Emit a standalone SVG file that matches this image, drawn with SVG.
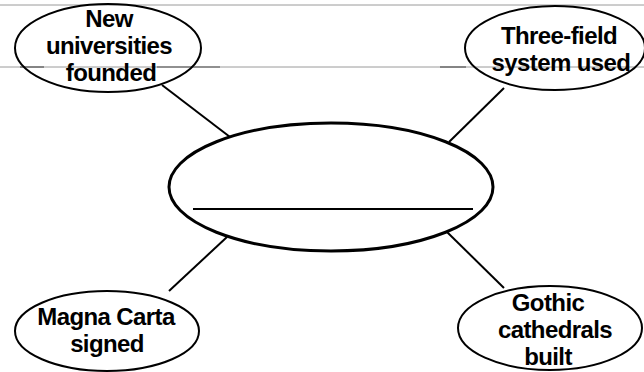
<svg xmlns="http://www.w3.org/2000/svg" width="644" height="372" viewBox="0 0 644 372">
<style>
.rule{stroke:#9a9a9a;stroke-width:1;fill:none}
.rule2{stroke:#555;stroke-width:1.2;fill:none}
.node{fill:none;stroke:#000;stroke-width:2}
.center{fill:none;stroke:#000;stroke-width:3}
.conn{stroke:#000;stroke-width:2;fill:none}
text{font-family:"Liberation Sans",Arial,sans-serif;font-weight:bold;font-size:24px;text-anchor:middle;fill:#000;letter-spacing:-0.6px}
</style>
<rect width="644" height="372" fill="#fff"/>
<g id="ruled-lines">
<line class="rule" x1="0" y1="5" x2="644" y2="5"/>
<line class="rule" x1="0" y1="67" x2="644" y2="67"/>
<line class="rule2" x1="20" y1="67" x2="44" y2="67"/>
<line class="rule2" x1="157" y1="67" x2="220" y2="67"/>
<line class="rule2" x1="440" y1="67" x2="466" y2="67"/>
</g>
<g id="connectors">
<line class="conn" x1="162" y1="85" x2="230" y2="137"/>
<line class="conn" x1="504" y1="88" x2="449" y2="142"/>
<line class="conn" x1="227" y1="237" x2="169" y2="291"/>
<line class="conn" x1="447" y1="232" x2="504" y2="288"/>
</g>
<g id="center">
<ellipse class="center" cx="331" cy="187" rx="162" ry="64"/>
<line x1="193" y1="209" x2="473" y2="209" stroke="#000" stroke-width="2"/>
</g>
<g id="node-universities">
<ellipse class="node" cx="108" cy="48" rx="93" ry="44"/>
<text x="109" y="27">New</text>
<text x="109" y="54">universities</text>
<text x="111" y="81">founded</text>
</g>
<g id="node-three-field">
<ellipse class="node" cx="555" cy="48" rx="90" ry="42"/>
<text x="559" y="44">Three-field</text>
<text x="561" y="71">system used</text>
</g>
<g id="node-magna-carta">
<ellipse class="node" cx="107" cy="331" rx="92" ry="40"/>
<text x="106" y="325">Magna Carta</text>
<text x="107" y="352">signed</text>
</g>
<g id="node-gothic">
<ellipse class="node" cx="550" cy="328" rx="92" ry="42"/>
<text x="548" y="311">Gothic</text>
<text x="555" y="338">cathedrals</text>
<text x="548" y="365">built</text>
</g>
</svg>
